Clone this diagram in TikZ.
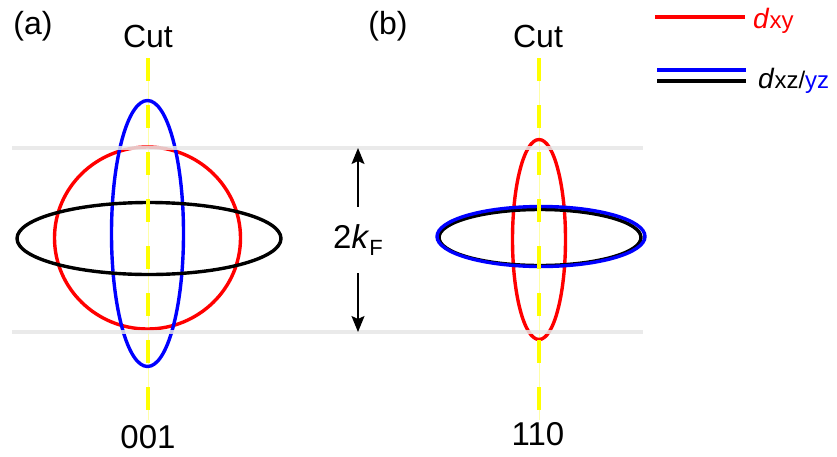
\documentclass[tikz,border=0pt]{standalone}
\usepackage{fontspec}
\setmainfont{Liberation Sans}
\usetikzlibrary{arrows.meta,positioning}
\definecolor{cutyellow}{HTML}{FFFF00}
\definecolor{bandgray}{HTML}{E6E6E6}
\definecolor{orbred}{HTML}{FF0000}
\definecolor{orbblue}{HTML}{0000FF}
\newcommand{\lblfont}{\fontsize{32}{37}\selectfont}
\newcommand{\numfont}{\fontsize{33}{38}\selectfont}
\newcommand{\legfont}{\fontsize{28}{32}\selectfont}
\newcommand{\subfont}{\fontsize{24}{28}\selectfont}
\tikzset{
  orbit/.style={line width=3.4pt},
  redorb/.style={orbit,draw=orbred},
  blueorb/.style={orbit,draw=orbblue},
  blackorb/.style={orbit,draw=black},
  cutline/.style={draw=cutyellow,line width=4pt,dash pattern=on 23pt off 24pt},
  cutghost/.style={draw=cutyellow!35,line width=0.6pt},
  band/.style={draw=bandgray,line width=4pt,opacity=0.85},
  kfarr/.style={-{Stealth[length=16pt,width=13pt,inset=3pt]},line width=1.5pt},
  lbl/.style={inner sep=0pt,font=\lblfont},
  numlbl/.style={inner sep=0pt,font=\numfont},
  legline/.style={line width=4pt}
}

\begin{document}
\begin{tikzpicture}[x=1pt,y=-1pt]
    \useasboundingbox (0,0) rectangle (837,456);

    % cut directions
    \draw[cutghost] (148,58) -- (148,420);
    \draw[cutghost] (539,58) -- (539,420);

    % (a) 001 cut
    \draw[redorb] (147.5,238) ellipse [x radius=93,y radius=91];
    \draw[blueorb] (147.5,233.5) ellipse [x radius=36,y radius=133];
    \draw[blackorb] (149,238.5) ellipse [x radius=132,y radius=36];

    % (b) 110 cut
    \draw[redorb] (539,239.5) ellipse [x radius=26.5,y radius=100];
    \draw[blackorb] (540,237.5) ellipse [x radius=101,y radius=28];
    \draw[blueorb] (541,236.5) ellipse [x radius=104,y radius=30];

    \draw[cutline] (148,58) -- (148,410);
    \draw[cutline] (539,58) -- (539,410);

    % 2k_F band
    \draw[band] (12,148) -- (643,148);
    \draw[band] (12,332) -- (643,332);

    \node[lbl] (pa) at (33,26) {(a)};
    \node[lbl] (cuta) at (148,36) {Cut};
    \node[lbl] (pb) at (388,26) {(b)};
    \node[lbl] (cutb) at (538,36) {Cut};
    \node[numlbl] (dira) at (148,437) {001};
    \node[numlbl] (dirb) at (538,434) {110};

    \node[numlbl,minimum height=66pt] (kf) at (358,240)
      {2\textit{k}\raisebox{-7pt}{\fontsize{22}{26}\selectfont F}};
    \coordinate (kftop) at (358,148);
    \coordinate (kfbot) at (358,332);
    \draw[kfarr] (kf.north) -- (kftop);
    \draw[kfarr] (kf.south) -- (kfbot);

    % legend
    \coordinate (legxya) at (655,17);
    \coordinate (legxyb) at (745,17);
    \coordinate (legza) at (657,70);
    \coordinate (legzb) at (746,70);
    \coordinate (legzc) at (657,81);
    \coordinate (legzd) at (746,81);
    \draw[legline,orbred] (legxya) -- (legxyb);
    \draw[legline,orbblue] (legza) -- (legzb);
    \draw[legline,black] (legzc) -- (legzd);
    \node[anchor=base west,inner sep=0pt,text=orbred] (dxy) at (753,28)
      {\legfont\textit{d}\subfont xy};
    \node[anchor=base west,inner sep=0pt] (dxz) at (758,88)
      {\legfont\textit{d}\subfont xz/\textcolor{orbblue}{yz}};
\end{tikzpicture}
\end{document}
